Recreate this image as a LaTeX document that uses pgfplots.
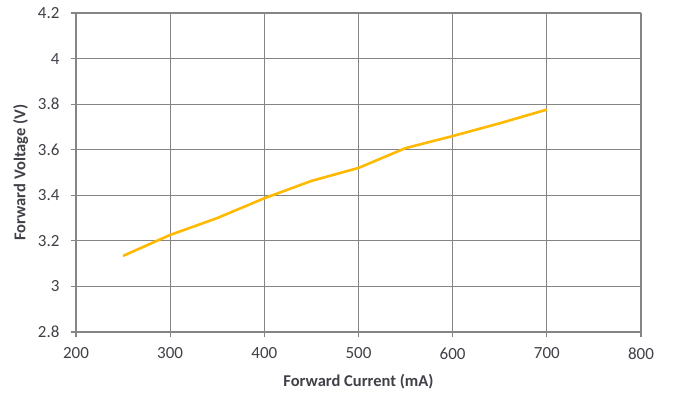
\documentclass[border=0pt]{standalone}
\usepackage{pgfplots}
\pgfplotsset{compat=1.18}
\usepackage{fontspec}
\setmainfont{Carlito}
\definecolor{gold}{HTML}{FFB900}
\definecolor{gridgray}{HTML}{858585}
\definecolor{ticktext}{HTML}{404048}
\begin{document}
\begin{tikzpicture}
\path[use as bounding box] (-76bp,-65bp) rectangle (602bp,332bp);
\begin{axis}[
  at={(0,0)}, anchor=south west,
  scale only axis,
  width=565bp, height=319bp,
  xmin=200, xmax=800, ymin=2.8, ymax=4.2,
  xtick={200,300,...,800},
  ytick={2.8,3,3.2,3.4,3.6,3.8,4,4.2},
  grid=major,
  major grid style={gridgray, line width=1.1bp},
  axis line style={gridgray, line width=1.1bp},
  axis x line*=bottom, axis y line*=left,
  tick style={gridgray, line width=1.1bp},
  tick align=outside, major tick length=5bp,
  xtick pos=bottom, ytick pos=left,
  tick label style={font=\fontsize{17bp}{19bp}\selectfont, text=ticktext},
  /pgf/number format/assume math mode=true,
  xticklabel style={yshift=-7bp},
  yticklabel style={xshift=-8bp},
  xlabel={\textbf{Forward Current (mA)}},
  ylabel={\textbf{Forward Voltage (V)}},
  label style={font=\fontsize{16.5bp}{19bp}\selectfont, text=ticktext},
  xlabel style={yshift=-8bp},
  ylabel style={yshift=3bp},
  clip=false,
]
\addplot[gold, line width=2.6bp, line join=round] coordinates {
(250,3.134) (300,3.226) (350,3.300) (400,3.387) (450,3.463)
(500,3.520) (550,3.607) (600,3.660) (650,3.716) (700,3.776)
};
\end{axis}
\end{tikzpicture}
\end{document}
